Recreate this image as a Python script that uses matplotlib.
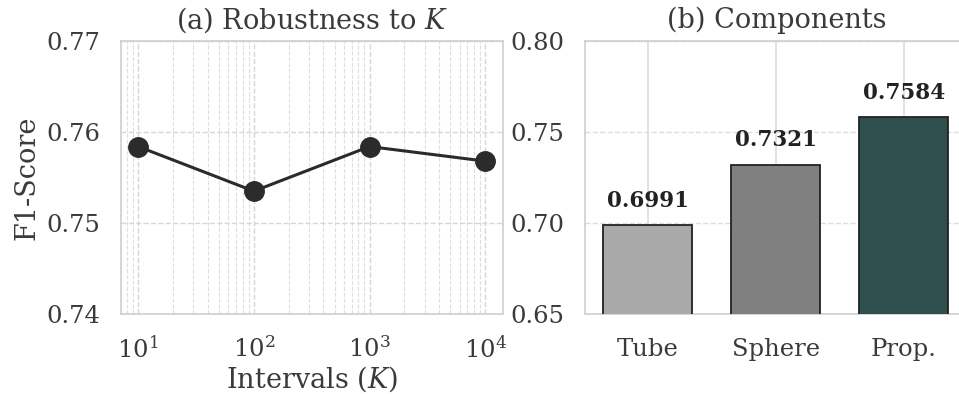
import numpy as np
import matplotlib
matplotlib.use('Agg')
import matplotlib.pyplot as plt
import seaborn as sns

sns.set_theme(style='whitegrid')
plt.rcParams['font.family'] = ['DejaVu Serif']
plt.rcParams['mathtext.fontset'] = 'dejavuserif'

# (a) F1 for different numbers of intervals K
k_values = [10, 100, 1000, 10000]
f1_scores = [0.7584, 0.7535, 0.7584, 0.7568]

# (b) component comparison
components = ['Tube', 'Sphere', 'Prop.']
comp_scores = [0.6991, 0.7321, 0.7584]
comp_colors = ['#a9a9a9', '#808080', '#2f4f4f']

fig = plt.figure(figsize=(9.59, 3.94), dpi=100)
ax1 = fig.add_axes([0.126, 0.203, 0.398, 0.693])
ax2 = fig.add_axes([0.610, 0.203, 0.399, 0.693])

fs_lab = 19.5
fs_tick = 17.5
txt = '#3a3a3a'

# 左图: K 的鲁棒性
ax1.plot(k_values, f1_scores, marker='o', color='#2b2b2b', linewidth=2.2, markersize=14)
ax1.set_xscale('log')
ax1.set_ylim(0.74, 0.77)
ax1.set_yticks([0.74, 0.75, 0.76, 0.77])
ax1.grid(True, which='major', linestyle='--', color='#d6d6d6', linewidth=1.0)
ax1.grid(True, which='minor', linestyle='--', color='#dedede', linewidth=0.8)
ax1.set_title('(a) Robustness to $K$', fontsize=fs_lab, color=txt, pad=9)
ax1.set_xlabel('Intervals ($K$)', fontsize=fs_lab, color=txt, labelpad=1)
ax1.set_ylabel('F1-Score', fontsize=fs_lab, color=txt, labelpad=4)
ax1.tick_params(axis='both', labelsize=fs_tick, colors=txt)
ax1.tick_params(axis='y', pad=9)
ax1.tick_params(axis='x', pad=10)

# 右图: 各组成部分
x = np.arange(len(components))
ax2.bar(x, comp_scores, width=0.7, color=comp_colors, edgecolor='#222222', linewidth=1.3, zorder=3)
ax2.set_xlim(-0.49, 2.5)
ax2.set_ylim(0.65, 0.80)
ax2.set_yticks([0.65, 0.70, 0.75, 0.80])
ax2.set_xticks(x)
ax2.set_xticklabels(components)
ax2.grid(axis='y', linestyle='--', color='#dddddd', linewidth=1.0)
ax2.grid(axis='x', linestyle='-', color='#dddddd', linewidth=1.2)
ax2.set_axisbelow(True)
ax2.set_title('(b) Components', fontsize=fs_lab, color=txt, pad=9)
ax2.tick_params(axis='both', labelsize=fs_tick, colors=txt)
ax2.tick_params(axis='y', pad=9)
ax2.tick_params(axis='x', pad=11)
for xi, v in zip(x, comp_scores):
    ax2.text(xi, v + 0.0072, f'{v:.4f}', ha='center', va='bottom', fontsize=15.5, fontweight='bold', color='#222222')

for ax in (ax1, ax2):
    for s in ax.spines.values():
        s.set_color('#d0d0d0')

fig.savefig('out.png', dpi=100)
